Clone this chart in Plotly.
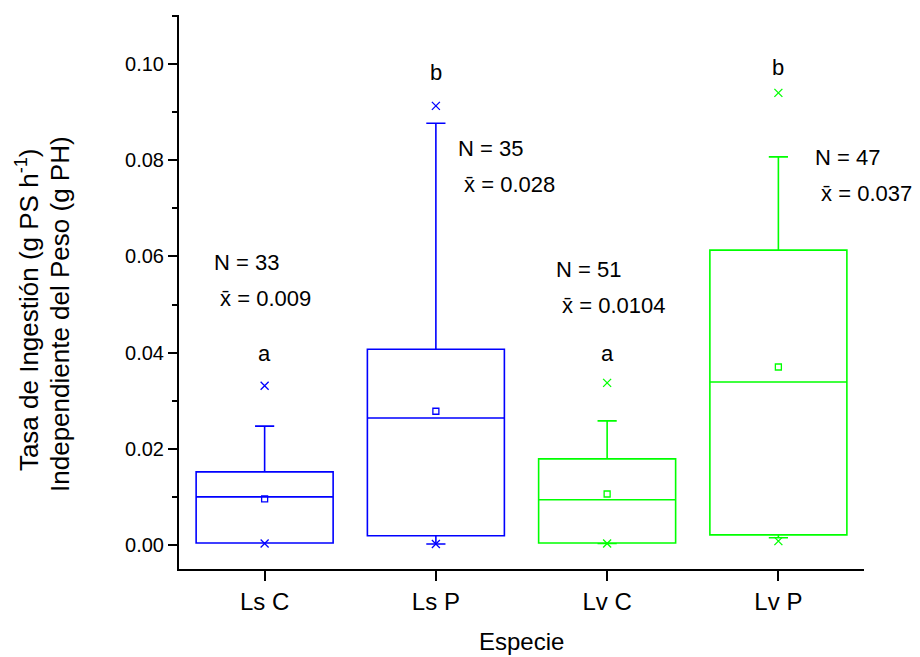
import plotly.graph_objects as go

categories = ["Ls C", "Ls P", "Lv C", "Lv P"]
q1 = [0.0004, 0.0019, 0.0004, 0.0021]
median = [0.0100, 0.0264, 0.0094, 0.0339]
q3 = [0.0152, 0.0407, 0.0179, 0.0613]
upper_fence = [0.0247, 0.0877, 0.0258, 0.0807]
lower_fence = [0.0004, 0.0002, 0.0003, 0.0015]
means = [0.0096, 0.0278, 0.0106, 0.0370]
max_vals = [0.0331, 0.0913, 0.0337, 0.0940]
min_vals = [0.0003, 0.0002, 0.0003, 0.0008]
colors = ["#0000FF", "#0000FF", "#00FF00", "#00FF00"]
letters = ["a", "b", "a", "b"]
letter_y = [0.0399, 0.0983, 0.0399, 0.0992]
n_labels = ["N = 33", "N = 35", "N = 51", "N = 47"]
mean_labels = ["0.009", "0.028", "0.0104", "0.037"]
label_x = [-0.31, 1.12, 1.69, 3.205]
label_y = [0.0588, 0.0825, 0.0572, 0.0805]
ytick_vals = [0.00, 0.02, 0.04, 0.06, 0.08, 0.10]

FONT = "Liberation Sans, Arial, sans-serif"
FS = 22

fig = go.Figure()
for i, cat in enumerate(categories):
    fig.add_trace(go.Box(
        x=[i], q1=[q1[i]], median=[median[i]], q3=[q3[i]],
        lowerfence=[lower_fence[i]], upperfence=[upper_fence[i]],
        width=0.8, whiskerwidth=0.14,
        line=dict(color=colors[i], width=1.6),
        fillcolor="rgba(255,255,255,0)",
        boxpoints=False, hoverinfo="skip", showlegend=False,
    ))
    fig.add_trace(go.Scatter(
        x=[i], y=[means[i]], mode="markers",
        marker=dict(symbol="square-open", size=6, color=colors[i], line=dict(width=1.3, color=colors[i])),
        showlegend=False, hoverinfo="skip",
    ))
    fig.add_trace(go.Scatter(
        x=[i, i], y=[max_vals[i], min_vals[i]], mode="markers",
        marker=dict(symbol="x-thin-open", size=8, color=colors[i], line=dict(width=1.3, color=colors[i])),
        showlegend=False, hoverinfo="skip",
    ))

annotations = []
for i in range(4):
    annotations.append(dict(x=i, y=letter_y[i], xref="x", yref="y", text=letters[i],
                            showarrow=False, font=dict(family=FONT, size=FS, color="black"),
                            xanchor="center", yanchor="middle"))
    annotations.append(dict(x=label_x[i], y=label_y[i], xref="x", yref="y", text=n_labels[i],
                            showarrow=False, font=dict(family=FONT, size=FS, color="black"),
                            xanchor="left", yanchor="middle"))
    annotations.append(dict(x=label_x[i], y=label_y[i] - 0.0075, xref="x", yref="y",
                            text=" x\u0304 = " + mean_labels[i],
                            showarrow=False, font=dict(family=FONT, size=FS, color="black"),
                            xanchor="left", yanchor="middle"))

annotations.append(dict(x=-0.222, y=0.469, xref="paper", yref="paper",
                        text="Tasa de Ingestión (g PS h<sup>-1</sup>)", textangle=-90,
                        showarrow=False, font=dict(family=FONT, size=26, color="black"),
                        xanchor="center", yanchor="middle"))
annotations.append(dict(x=-0.174, y=0.46, xref="paper", yref="paper",
                        text="Independiente del Peso (g PH)", textangle=-90,
                        showarrow=False, font=dict(family=FONT, size=26, color="black"),
                        xanchor="center", yanchor="middle"))
annotations.append(dict(x=0.5, y=-0.131, xref="paper", yref="paper",
                        text="Especie", showarrow=False,
                        font=dict(family=FONT, size=24, color="black"),
                        xanchor="center", yanchor="middle"))

fig.update_layout(
    width=912, height=649,
    margin=dict(l=171, r=56, t=7, b=88),
    paper_bgcolor="white", plot_bgcolor="white",
    boxmode="overlay",
    font=dict(family=FONT, size=FS, color="black"),
    annotations=annotations,
    xaxis=dict(
        range=[-0.5, 3.5], tickmode="array", tickvals=[0, 1, 2, 3], ticktext=categories,
        showline=True, linecolor="black", linewidth=2, ticks="outside", ticklen=10,
        tickwidth=1.5, tickcolor="black", showgrid=False, zeroline=False,
        tickfont=dict(family=FONT, size=24, color="black"),
    ),
    yaxis=dict(
        range=[-0.005, 0.1102], tickmode="array", tickvals=ytick_vals,
        tickformat=".2f", showline=True, linecolor="black", linewidth=2,
        ticks="outside", ticklen=9, tickwidth=2, tickcolor="black",
        showgrid=False, zeroline=False,
        minor=dict(dtick=0.01, tick0=0, ticks="outside", ticklen=5, tickwidth=2, tickcolor="black", showgrid=False),
        tickfont=dict(family=FONT, size=20, color="black"),
    ),
)

fig.write_html("out.html")
